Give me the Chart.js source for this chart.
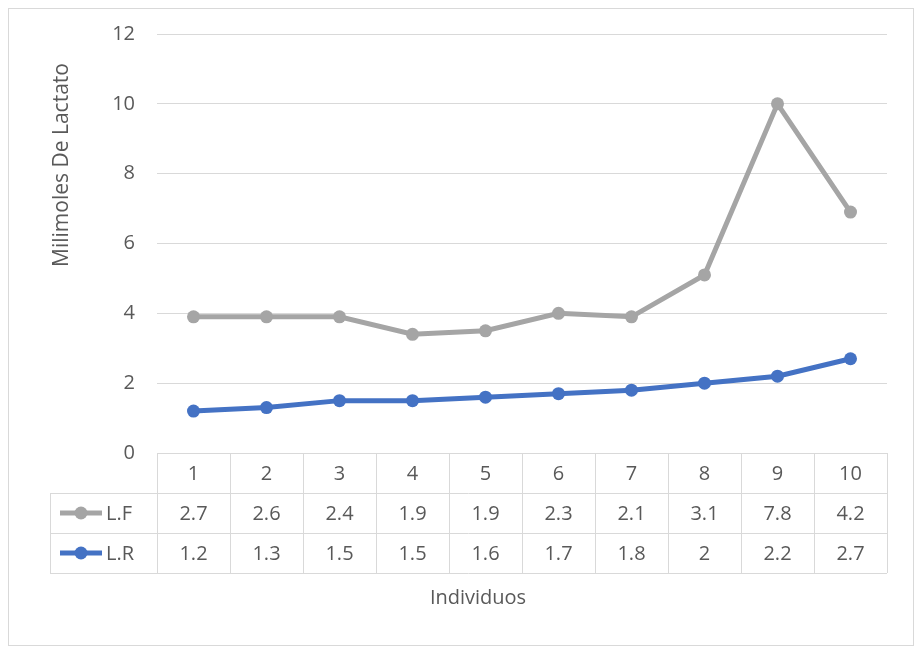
<!DOCTYPE html>
<html>
<head>
<meta charset="utf-8">
<script src="https://cdn.jsdelivr.net/npm/chart.js@4/dist/chart.umd.min.js"></script>
<style>
  body { margin: 0; background: #fff; }
  #wrap { width: 921px; height: 653px; }
</style>
</head>
<body>
<div id="wrap"><canvas id="c"></canvas></div>
<script>
const individuos = ['1', '2', '3', '4', '5', '6', '7', '8', '9', '10'];
const lf = [2.7, 2.6, 2.4, 1.9, 1.9, 2.3, 2.1, 3.1, 7.8, 4.2];
const lr = [1.2, 1.3, 1.5, 1.5, 1.6, 1.7, 1.8, 2, 2.2, 2.7];
const yTicks = [0, 2, 4, 6, 8, 10, 12];

const GREY = '#a5a5a5';
const BLUE = '#4472c4';
const TXT = '#595959';
const FONT = '"Open Sans", "Liberation Sans", sans-serif';

// tabla de datos estilo Excel debajo del gráfico
const tablePlugin = {
    id: 'tabla',
    afterDraw(chart) {
        const ctx = chart.ctx;
        const x = chart.scales.x;
        const area = chart.chartArea;
        const left = 50, rowH = 40;
        const top = area.bottom;
        const half = (x.getPixelForValue(1) - x.getPixelForValue(0)) / 2;
        ctx.save();
        ctx.strokeStyle = '#d9d9d9';
        ctx.lineWidth = 1;
        ctx.beginPath();
        // horizontales
        for (let r = 1; r <= 3; r++) {
            ctx.moveTo(left, top + r * rowH + 0.5);
            ctx.lineTo(area.right, top + r * rowH + 0.5);
        }
        // verticales
        ctx.moveTo(left + 0.5, top + rowH);
        ctx.lineTo(left + 0.5, top + 3 * rowH);
        for (let i = 0; i <= individuos.length; i++) {
            const px = Math.round(x.getPixelForValue(i) - half) + 0.5;
            ctx.moveTo(px, top);
            ctx.lineTo(px, top + 3 * rowH);
        }
        ctx.stroke();

        ctx.font = '20px ' + FONT;
        ctx.fillStyle = TXT;
        ctx.textAlign = 'center';
        ctx.textBaseline = 'middle';
        const rows = [individuos, lf, lr];
        rows.forEach((vals, r) => {
            vals.forEach((v, i) => {
                ctx.fillText(String(v), x.getPixelForValue(i), top + r * rowH + rowH / 2 + 1);
            });
        });

        // claves de leyenda
        [[GREY, 'L.F'], [BLUE, 'L.R']].forEach(([col, name], k) => {
            const cy = top + (k + 1) * rowH + rowH / 2;
            ctx.strokeStyle = col;
            ctx.lineWidth = 5;
            ctx.beginPath();
            ctx.moveTo(60, cy);
            ctx.lineTo(102, cy);
            ctx.stroke();
            ctx.fillStyle = col;
            ctx.beginPath();
            ctx.arc(81, cy, 6.5, 0, Math.PI * 2);
            ctx.fill();
            ctx.fillStyle = TXT;
            ctx.textAlign = 'left';
            ctx.fillText(name, 106, cy + 1);
        });

        // títulos
        ctx.textAlign = 'center';
        ctx.fillText('Individuos', 478, 598);
        ctx.translate(62, 165);
        ctx.rotate(-Math.PI / 2);
        ctx.font = '21px ' + FONT;
        ctx.fillText('Milimoles De Lactato', 0, 0);
        ctx.restore();

        // borde exterior
        ctx.save();
        ctx.strokeStyle = '#d9d9d9';
        ctx.lineWidth = 1;
        ctx.strokeRect(8.5, 8.5, 905, 637);
        ctx.restore();
    }
};

new Chart(document.getElementById('c'), {
    type: 'line',
    data: {
        labels: individuos,
        datasets: [
            {
                label: 'L.R', data: lr, borderColor: BLUE, backgroundColor: BLUE,
                borderWidth: 5, pointRadius: 6.5, pointHoverRadius: 6.5,
                pointBorderWidth: 0, tension: 0, order: 1
            },
            {
                label: 'L.F', data: lf, borderColor: GREY, backgroundColor: GREY,
                borderWidth: 5, pointRadius: 6.5, pointHoverRadius: 6.5,
                pointBorderWidth: 0, tension: 0, order: 2
            }
        ]
    },
    options: {
        responsive: true,
        maintainAspectRatio: false,
        animation: false,
        layout: { padding: { top: 34, right: 34, bottom: 200, left: 0 } },
        plugins: { legend: { display: false }, tooltip: { enabled: false } },
        scales: {
            x: { display: false, offset: true },
            y: {
                stacked: true,
                min: 0, max: 12,
                afterFit(s) { s.width = 157; },
                afterBuildTicks(s) { s.ticks = yTicks.map(v => ({ value: v })); },
                border: { display: false },
                grid: { color: '#d9d9d9', drawTicks: false },
                ticks: { color: TXT, font: { family: FONT, size: 20 }, padding: 22 }
            }
        }
    },
    plugins: [tablePlugin]
});
</script>
</body>
</html>
